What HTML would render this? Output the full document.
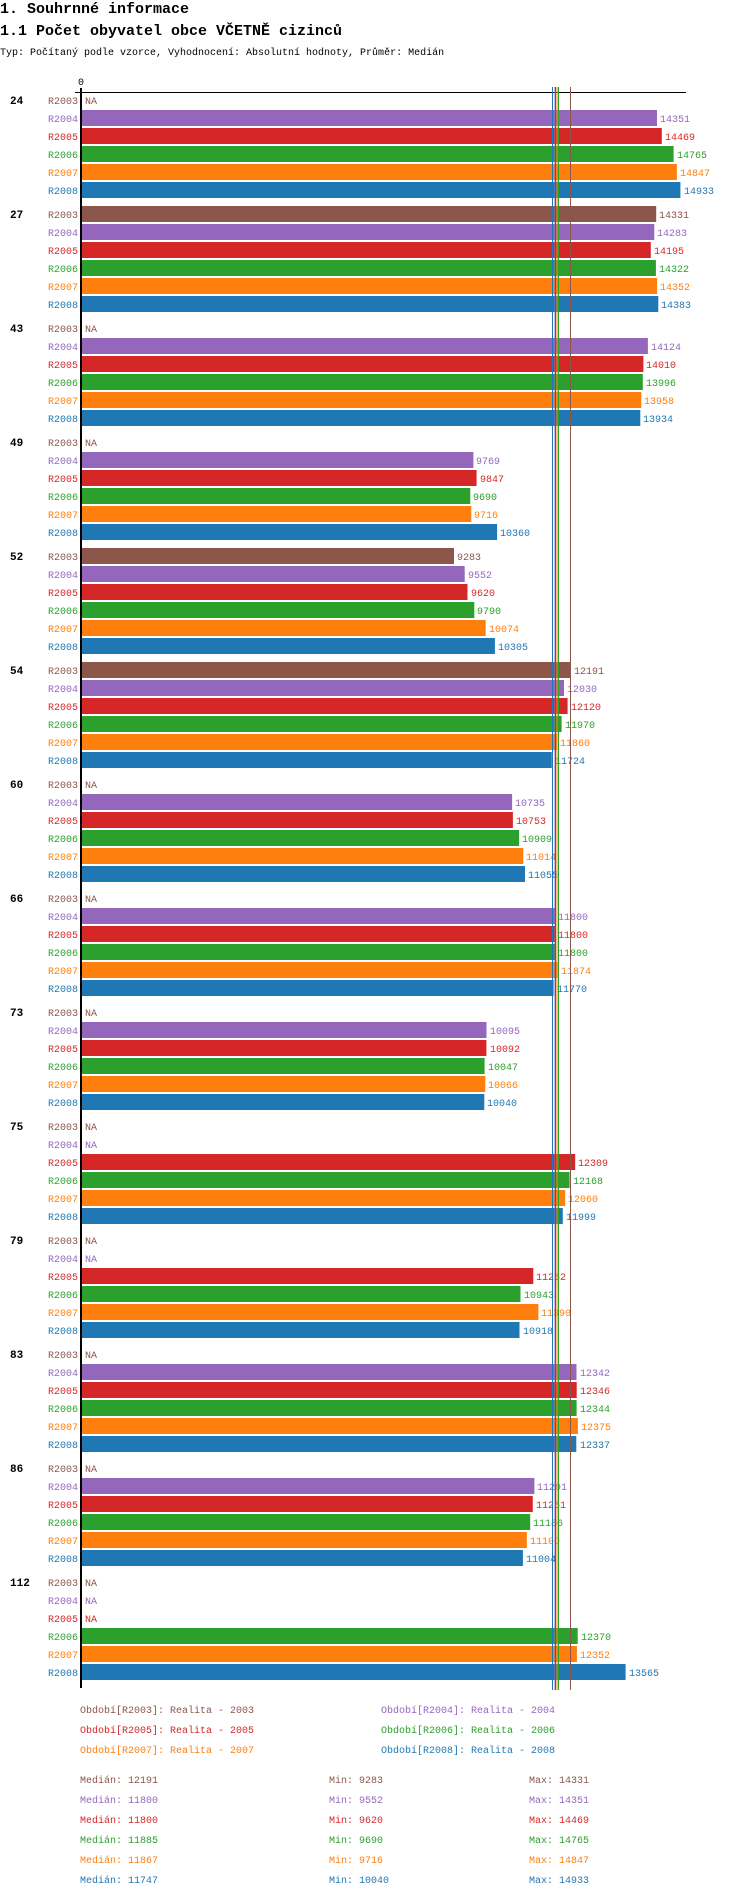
<!DOCTYPE html>
<html><head><meta charset="utf-8"><style>
body{margin:0;background:#fff;width:750px;height:1898px;overflow:hidden}
svg{display:block;font-family:"Liberation Mono",monospace;font-size:10px}
.b{font-weight:bold}
</style></head><body>
<svg width="750" height="1898" xmlns="http://www.w3.org/2000/svg">
<text x="0" y="13" font-size="15" class="b">1. Souhrnné informace</text>
<text x="0" y="35" font-size="15" class="b">1.1 Počet obyvatel obce VČETNĚ cizinců</text>
<text x="0" y="55">Typ: Počítaný podle vzorce, Vyhodnocení: Absolutní hodnoty, Průměr: Medián</text>
<text x="81" y="85" text-anchor="middle">0</text>
<rect x="75" y="92" width="611" height="1" fill="#000"/>
<rect x="80" y="88" width="2" height="1600" fill="#000"/>

<g transform="translate(0,92)">
<text x="10" y="12" class="b" font-size="11">24</text>
<text x="78" y="12" text-anchor="end" fill="#8c564b">R2003</text><text x="85" y="12" fill="#8c564b">NA</text>
<text x="78" y="30" text-anchor="end" fill="#9467bd">R2004</text><rect x="82" y="18" width="575" height="16" fill="#9467bd"/><text x="660" y="30" fill="#9467bd">14351</text>
<text x="78" y="48" text-anchor="end" fill="#d62728">R2005</text><rect x="82" y="36" width="579.8" height="16" fill="#d62728"/><text x="665" y="48" fill="#d62728">14469</text>
<text x="78" y="66" text-anchor="end" fill="#2ca02c">R2006</text><rect x="82" y="54" width="591.6" height="16" fill="#2ca02c"/><text x="677" y="66" fill="#2ca02c">14765</text>
<text x="78" y="84" text-anchor="end" fill="#ff7f0e">R2007</text><rect x="82" y="72" width="594.9" height="16" fill="#ff7f0e"/><text x="680" y="84" fill="#ff7f0e">14847</text>
<text x="78" y="102" text-anchor="end" fill="#1f77b4">R2008</text><rect x="82" y="90" width="598.4" height="16" fill="#1f77b4"/><text x="684" y="102" fill="#1f77b4">14933</text>
</g>
<g transform="translate(0,206)">
<text x="10" y="12" class="b" font-size="11">27</text>
<text x="78" y="12" text-anchor="end" fill="#8c564b">R2003</text><rect x="82" y="0" width="574.2" height="16" fill="#8c564b"/><text x="659" y="12" fill="#8c564b">14331</text>
<text x="78" y="30" text-anchor="end" fill="#9467bd">R2004</text><rect x="82" y="18" width="572.3" height="16" fill="#9467bd"/><text x="657" y="30" fill="#9467bd">14283</text>
<text x="78" y="48" text-anchor="end" fill="#d62728">R2005</text><rect x="82" y="36" width="568.8" height="16" fill="#d62728"/><text x="654" y="48" fill="#d62728">14195</text>
<text x="78" y="66" text-anchor="end" fill="#2ca02c">R2006</text><rect x="82" y="54" width="573.9" height="16" fill="#2ca02c"/><text x="659" y="66" fill="#2ca02c">14322</text>
<text x="78" y="84" text-anchor="end" fill="#ff7f0e">R2007</text><rect x="82" y="72" width="575.1" height="16" fill="#ff7f0e"/><text x="660" y="84" fill="#ff7f0e">14352</text>
<text x="78" y="102" text-anchor="end" fill="#1f77b4">R2008</text><rect x="82" y="90" width="576.3" height="16" fill="#1f77b4"/><text x="661" y="102" fill="#1f77b4">14383</text>
</g>
<g transform="translate(0,320)">
<text x="10" y="12" class="b" font-size="11">43</text>
<text x="78" y="12" text-anchor="end" fill="#8c564b">R2003</text><text x="85" y="12" fill="#8c564b">NA</text>
<text x="78" y="30" text-anchor="end" fill="#9467bd">R2004</text><rect x="82" y="18" width="565.9" height="16" fill="#9467bd"/><text x="651" y="30" fill="#9467bd">14124</text>
<text x="78" y="48" text-anchor="end" fill="#d62728">R2005</text><rect x="82" y="36" width="561.4" height="16" fill="#d62728"/><text x="646" y="48" fill="#d62728">14010</text>
<text x="78" y="66" text-anchor="end" fill="#2ca02c">R2006</text><rect x="82" y="54" width="560.8" height="16" fill="#2ca02c"/><text x="646" y="66" fill="#2ca02c">13996</text>
<text x="78" y="84" text-anchor="end" fill="#ff7f0e">R2007</text><rect x="82" y="72" width="559.3" height="16" fill="#ff7f0e"/><text x="644" y="84" fill="#ff7f0e">13958</text>
<text x="78" y="102" text-anchor="end" fill="#1f77b4">R2008</text><rect x="82" y="90" width="558.3" height="16" fill="#1f77b4"/><text x="643" y="102" fill="#1f77b4">13934</text>
</g>
<g transform="translate(0,434)">
<text x="10" y="12" class="b" font-size="11">49</text>
<text x="78" y="12" text-anchor="end" fill="#8c564b">R2003</text><text x="85" y="12" fill="#8c564b">NA</text>
<text x="78" y="30" text-anchor="end" fill="#9467bd">R2004</text><rect x="82" y="18" width="391.4" height="16" fill="#9467bd"/><text x="476" y="30" fill="#9467bd">9769</text>
<text x="78" y="48" text-anchor="end" fill="#d62728">R2005</text><rect x="82" y="36" width="394.6" height="16" fill="#d62728"/><text x="480" y="48" fill="#d62728">9847</text>
<text x="78" y="66" text-anchor="end" fill="#2ca02c">R2006</text><rect x="82" y="54" width="388.3" height="16" fill="#2ca02c"/><text x="473" y="66" fill="#2ca02c">9690</text>
<text x="78" y="84" text-anchor="end" fill="#ff7f0e">R2007</text><rect x="82" y="72" width="389.3" height="16" fill="#ff7f0e"/><text x="474" y="84" fill="#ff7f0e">9716</text>
<text x="78" y="102" text-anchor="end" fill="#1f77b4">R2008</text><rect x="82" y="90" width="415.1" height="16" fill="#1f77b4"/><text x="500" y="102" fill="#1f77b4">10360</text>
</g>
<g transform="translate(0,548)">
<text x="10" y="12" class="b" font-size="11">52</text>
<text x="78" y="12" text-anchor="end" fill="#8c564b">R2003</text><rect x="82" y="0" width="372" height="16" fill="#8c564b"/><text x="457" y="12" fill="#8c564b">9283</text>
<text x="78" y="30" text-anchor="end" fill="#9467bd">R2004</text><rect x="82" y="18" width="382.7" height="16" fill="#9467bd"/><text x="468" y="30" fill="#9467bd">9552</text>
<text x="78" y="48" text-anchor="end" fill="#d62728">R2005</text><rect x="82" y="36" width="385.5" height="16" fill="#d62728"/><text x="471" y="48" fill="#d62728">9620</text>
<text x="78" y="66" text-anchor="end" fill="#2ca02c">R2006</text><rect x="82" y="54" width="392.3" height="16" fill="#2ca02c"/><text x="477" y="66" fill="#2ca02c">9790</text>
<text x="78" y="84" text-anchor="end" fill="#ff7f0e">R2007</text><rect x="82" y="72" width="403.7" height="16" fill="#ff7f0e"/><text x="489" y="84" fill="#ff7f0e">10074</text>
<text x="78" y="102" text-anchor="end" fill="#1f77b4">R2008</text><rect x="82" y="90" width="412.9" height="16" fill="#1f77b4"/><text x="498" y="102" fill="#1f77b4">10305</text>
</g>
<g transform="translate(0,662)">
<text x="10" y="12" class="b" font-size="11">54</text>
<text x="78" y="12" text-anchor="end" fill="#8c564b">R2003</text><rect x="82" y="0" width="488.5" height="16" fill="#8c564b"/><text x="574" y="12" fill="#8c564b">12191</text>
<text x="78" y="30" text-anchor="end" fill="#9467bd">R2004</text><rect x="82" y="18" width="482" height="16" fill="#9467bd"/><text x="567" y="30" fill="#9467bd">12030</text>
<text x="78" y="48" text-anchor="end" fill="#d62728">R2005</text><rect x="82" y="36" width="485.6" height="16" fill="#d62728"/><text x="571" y="48" fill="#d62728">12120</text>
<text x="78" y="66" text-anchor="end" fill="#2ca02c">R2006</text><rect x="82" y="54" width="479.6" height="16" fill="#2ca02c"/><text x="565" y="66" fill="#2ca02c">11970</text>
<text x="78" y="84" text-anchor="end" fill="#ff7f0e">R2007</text><rect x="82" y="72" width="475.2" height="16" fill="#ff7f0e"/><text x="560" y="84" fill="#ff7f0e">11860</text>
<text x="78" y="102" text-anchor="end" fill="#1f77b4">R2008</text><rect x="82" y="90" width="469.8" height="16" fill="#1f77b4"/><text x="555" y="102" fill="#1f77b4">11724</text>
</g>
<g transform="translate(0,776)">
<text x="10" y="12" class="b" font-size="11">60</text>
<text x="78" y="12" text-anchor="end" fill="#8c564b">R2003</text><text x="85" y="12" fill="#8c564b">NA</text>
<text x="78" y="30" text-anchor="end" fill="#9467bd">R2004</text><rect x="82" y="18" width="430.1" height="16" fill="#9467bd"/><text x="515" y="30" fill="#9467bd">10735</text>
<text x="78" y="48" text-anchor="end" fill="#d62728">R2005</text><rect x="82" y="36" width="430.9" height="16" fill="#d62728"/><text x="516" y="48" fill="#d62728">10753</text>
<text x="78" y="66" text-anchor="end" fill="#2ca02c">R2006</text><rect x="82" y="54" width="437.1" height="16" fill="#2ca02c"/><text x="522" y="66" fill="#2ca02c">10909</text>
<text x="78" y="84" text-anchor="end" fill="#ff7f0e">R2007</text><rect x="82" y="72" width="441.3" height="16" fill="#ff7f0e"/><text x="526" y="84" fill="#ff7f0e">11014</text>
<text x="78" y="102" text-anchor="end" fill="#1f77b4">R2008</text><rect x="82" y="90" width="443" height="16" fill="#1f77b4"/><text x="528" y="102" fill="#1f77b4">11055</text>
</g>
<g transform="translate(0,890)">
<text x="10" y="12" class="b" font-size="11">66</text>
<text x="78" y="12" text-anchor="end" fill="#8c564b">R2003</text><text x="85" y="12" fill="#8c564b">NA</text>
<text x="78" y="30" text-anchor="end" fill="#9467bd">R2004</text><rect x="82" y="18" width="472.8" height="16" fill="#9467bd"/><text x="558" y="30" fill="#9467bd">11800</text>
<text x="78" y="48" text-anchor="end" fill="#d62728">R2005</text><rect x="82" y="36" width="472.8" height="16" fill="#d62728"/><text x="558" y="48" fill="#d62728">11800</text>
<text x="78" y="66" text-anchor="end" fill="#2ca02c">R2006</text><rect x="82" y="54" width="472.8" height="16" fill="#2ca02c"/><text x="558" y="66" fill="#2ca02c">11800</text>
<text x="78" y="84" text-anchor="end" fill="#ff7f0e">R2007</text><rect x="82" y="72" width="475.8" height="16" fill="#ff7f0e"/><text x="561" y="84" fill="#ff7f0e">11874</text>
<text x="78" y="102" text-anchor="end" fill="#1f77b4">R2008</text><rect x="82" y="90" width="471.6" height="16" fill="#1f77b4"/><text x="557" y="102" fill="#1f77b4">11770</text>
</g>
<g transform="translate(0,1004)">
<text x="10" y="12" class="b" font-size="11">73</text>
<text x="78" y="12" text-anchor="end" fill="#8c564b">R2003</text><text x="85" y="12" fill="#8c564b">NA</text>
<text x="78" y="30" text-anchor="end" fill="#9467bd">R2004</text><rect x="82" y="18" width="404.5" height="16" fill="#9467bd"/><text x="490" y="30" fill="#9467bd">10095</text>
<text x="78" y="48" text-anchor="end" fill="#d62728">R2005</text><rect x="82" y="36" width="404.4" height="16" fill="#d62728"/><text x="490" y="48" fill="#d62728">10092</text>
<text x="78" y="66" text-anchor="end" fill="#2ca02c">R2006</text><rect x="82" y="54" width="402.6" height="16" fill="#2ca02c"/><text x="488" y="66" fill="#2ca02c">10047</text>
<text x="78" y="84" text-anchor="end" fill="#ff7f0e">R2007</text><rect x="82" y="72" width="403.3" height="16" fill="#ff7f0e"/><text x="488" y="84" fill="#ff7f0e">10066</text>
<text x="78" y="102" text-anchor="end" fill="#1f77b4">R2008</text><rect x="82" y="90" width="402.3" height="16" fill="#1f77b4"/><text x="487" y="102" fill="#1f77b4">10040</text>
</g>
<g transform="translate(0,1118)">
<text x="10" y="12" class="b" font-size="11">75</text>
<text x="78" y="12" text-anchor="end" fill="#8c564b">R2003</text><text x="85" y="12" fill="#8c564b">NA</text>
<text x="78" y="30" text-anchor="end" fill="#9467bd">R2004</text><text x="85" y="30" fill="#9467bd">NA</text>
<text x="78" y="48" text-anchor="end" fill="#d62728">R2005</text><rect x="82" y="36" width="493.2" height="16" fill="#d62728"/><text x="578" y="48" fill="#d62728">12309</text>
<text x="78" y="66" text-anchor="end" fill="#2ca02c">R2006</text><rect x="82" y="54" width="487.6" height="16" fill="#2ca02c"/><text x="573" y="66" fill="#2ca02c">12168</text>
<text x="78" y="84" text-anchor="end" fill="#ff7f0e">R2007</text><rect x="82" y="72" width="483.2" height="16" fill="#ff7f0e"/><text x="568" y="84" fill="#ff7f0e">12060</text>
<text x="78" y="102" text-anchor="end" fill="#1f77b4">R2008</text><rect x="82" y="90" width="480.8" height="16" fill="#1f77b4"/><text x="566" y="102" fill="#1f77b4">11999</text>
</g>
<g transform="translate(0,1232)">
<text x="10" y="12" class="b" font-size="11">79</text>
<text x="78" y="12" text-anchor="end" fill="#8c564b">R2003</text><text x="85" y="12" fill="#8c564b">NA</text>
<text x="78" y="30" text-anchor="end" fill="#9467bd">R2004</text><text x="85" y="30" fill="#9467bd">NA</text>
<text x="78" y="48" text-anchor="end" fill="#d62728">R2005</text><rect x="82" y="36" width="451.3" height="16" fill="#d62728"/><text x="536" y="48" fill="#d62728">11262</text>
<text x="78" y="66" text-anchor="end" fill="#2ca02c">R2006</text><rect x="82" y="54" width="438.5" height="16" fill="#2ca02c"/><text x="524" y="66" fill="#2ca02c">10943</text>
<text x="78" y="84" text-anchor="end" fill="#ff7f0e">R2007</text><rect x="82" y="72" width="456.4" height="16" fill="#ff7f0e"/><text x="541" y="84" fill="#ff7f0e">11390</text>
<text x="78" y="102" text-anchor="end" fill="#1f77b4">R2008</text><rect x="82" y="90" width="437.5" height="16" fill="#1f77b4"/><text x="523" y="102" fill="#1f77b4">10918</text>
</g>
<g transform="translate(0,1346)">
<text x="10" y="12" class="b" font-size="11">83</text>
<text x="78" y="12" text-anchor="end" fill="#8c564b">R2003</text><text x="85" y="12" fill="#8c564b">NA</text>
<text x="78" y="30" text-anchor="end" fill="#9467bd">R2004</text><rect x="82" y="18" width="494.5" height="16" fill="#9467bd"/><text x="580" y="30" fill="#9467bd">12342</text>
<text x="78" y="48" text-anchor="end" fill="#d62728">R2005</text><rect x="82" y="36" width="494.7" height="16" fill="#d62728"/><text x="580" y="48" fill="#d62728">12346</text>
<text x="78" y="66" text-anchor="end" fill="#2ca02c">R2006</text><rect x="82" y="54" width="494.6" height="16" fill="#2ca02c"/><text x="580" y="66" fill="#2ca02c">12344</text>
<text x="78" y="84" text-anchor="end" fill="#ff7f0e">R2007</text><rect x="82" y="72" width="495.9" height="16" fill="#ff7f0e"/><text x="581" y="84" fill="#ff7f0e">12375</text>
<text x="78" y="102" text-anchor="end" fill="#1f77b4">R2008</text><rect x="82" y="90" width="494.3" height="16" fill="#1f77b4"/><text x="580" y="102" fill="#1f77b4">12337</text>
</g>
<g transform="translate(0,1460)">
<text x="10" y="12" class="b" font-size="11">86</text>
<text x="78" y="12" text-anchor="end" fill="#8c564b">R2003</text><text x="85" y="12" fill="#8c564b">NA</text>
<text x="78" y="30" text-anchor="end" fill="#9467bd">R2004</text><rect x="82" y="18" width="452.4" height="16" fill="#9467bd"/><text x="537" y="30" fill="#9467bd">11291</text>
<text x="78" y="48" text-anchor="end" fill="#d62728">R2005</text><rect x="82" y="36" width="450.8" height="16" fill="#d62728"/><text x="536" y="48" fill="#d62728">11251</text>
<text x="78" y="66" text-anchor="end" fill="#2ca02c">R2006</text><rect x="82" y="54" width="448.2" height="16" fill="#2ca02c"/><text x="533" y="66" fill="#2ca02c">11186</text>
<text x="78" y="84" text-anchor="end" fill="#ff7f0e">R2007</text><rect x="82" y="72" width="444.8" height="16" fill="#ff7f0e"/><text x="530" y="84" fill="#ff7f0e">11100</text>
<text x="78" y="102" text-anchor="end" fill="#1f77b4">R2008</text><rect x="82" y="90" width="440.9" height="16" fill="#1f77b4"/><text x="526" y="102" fill="#1f77b4">11004</text>
</g>
<g transform="translate(0,1574)">
<text x="10" y="12" class="b" font-size="11">112</text>
<text x="78" y="12" text-anchor="end" fill="#8c564b">R2003</text><text x="85" y="12" fill="#8c564b">NA</text>
<text x="78" y="30" text-anchor="end" fill="#9467bd">R2004</text><text x="85" y="30" fill="#9467bd">NA</text>
<text x="78" y="48" text-anchor="end" fill="#d62728">R2005</text><text x="85" y="48" fill="#d62728">NA</text>
<text x="78" y="66" text-anchor="end" fill="#2ca02c">R2006</text><rect x="82" y="54" width="495.7" height="16" fill="#2ca02c"/><text x="581" y="66" fill="#2ca02c">12370</text>
<text x="78" y="84" text-anchor="end" fill="#ff7f0e">R2007</text><rect x="82" y="72" width="494.9" height="16" fill="#ff7f0e"/><text x="580" y="84" fill="#ff7f0e">12352</text>
<text x="78" y="102" text-anchor="end" fill="#1f77b4">R2008</text><rect x="82" y="90" width="543.6" height="16" fill="#1f77b4"/><text x="629" y="102" fill="#1f77b4">13565</text>
</g>

<rect x="570" y="87" width="1" height="1603" fill="#8c564b"/>
<rect x="554.5" y="87" width="1" height="1603" fill="#9467bd"/>
<rect x="555" y="87" width="1" height="1603" fill="#d62728"/>
<rect x="558" y="87" width="1" height="1603" fill="#2ca02c"/>
<rect x="556.5" y="87" width="1" height="1603" fill="#ff7f0e"/>
<rect x="552" y="87" width="1" height="1603" fill="#1f77b4"/>

<text x="80" y="1713" fill="#8c564b">Období[R2003]: Realita - 2003</text>
<text x="381" y="1713" fill="#9467bd">Období[R2004]: Realita - 2004</text>
<text x="80" y="1733" fill="#d62728">Období[R2005]: Realita - 2005</text>
<text x="381" y="1733" fill="#2ca02c">Období[R2006]: Realita - 2006</text>
<text x="80" y="1753" fill="#ff7f0e">Období[R2007]: Realita - 2007</text>
<text x="381" y="1753" fill="#1f77b4">Období[R2008]: Realita - 2008</text>

<g fill="#8c564b"><text x="80" y="1783">Medián: 12191</text><text x="329" y="1783">Min: 9283</text><text x="529" y="1783">Max: 14331</text></g>
<g fill="#9467bd"><text x="80" y="1803">Medián: 11800</text><text x="329" y="1803">Min: 9552</text><text x="529" y="1803">Max: 14351</text></g>
<g fill="#d62728"><text x="80" y="1823">Medián: 11800</text><text x="329" y="1823">Min: 9620</text><text x="529" y="1823">Max: 14469</text></g>
<g fill="#2ca02c"><text x="80" y="1843">Medián: 11885</text><text x="329" y="1843">Min: 9690</text><text x="529" y="1843">Max: 14765</text></g>
<g fill="#ff7f0e"><text x="80" y="1863">Medián: 11867</text><text x="329" y="1863">Min: 9716</text><text x="529" y="1863">Max: 14847</text></g>
<g fill="#1f77b4"><text x="80" y="1883">Medián: 11747</text><text x="329" y="1883">Min: 10040</text><text x="529" y="1883">Max: 14933</text></g>
</svg>
</body></html>
